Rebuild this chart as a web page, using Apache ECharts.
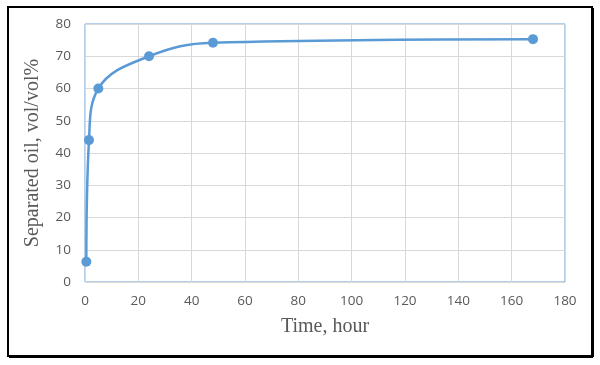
<!DOCTYPE html>
<html><head><meta charset="utf-8">
<script src="https://cdn.jsdelivr.net/npm/echarts@6/dist/echarts.min.js"></script>
<style>html,body{margin:0;padding:0;background:#fff}#c{width:600px;height:365px}</style>
</head><body><div id="c"></div>
<script>
const timeHours = [0.5, 1.5, 5, 24, 48, 168];
const separatedOil = [6.3, 44, 60, 70, 74.2, 75.3];
const xTicks = [0, 20, 40, 60, 80, 100, 120, 140, 160, 180];
const yTicks = [0, 10, 20, 30, 40, 50, 60, 70, 80];

const chart = echarts.init(document.getElementById('c'), null, {renderer: 'canvas'});
const axisLabel = {color: '#595959', fontFamily: 'Open Sans, sans-serif', fontSize: 13.5};
chart.setOption({
  animation: false,
  graphic: [{type: 'rect', shape: {x: 8, y: 7, width: 584, height: 349},
    style: {fill: 'none', stroke: '#000', lineWidth: 2}, z: 100},
    {type: 'line', shape: {x1: 593, y1: 8, x2: 593, y2: 357}, style: {stroke: '#000', lineWidth: 2}},
    {type: 'line', shape: {x1: 9, y1: 357, x2: 593, y2: 357}, style: {stroke: '#000', lineWidth: 2}}],
  grid: {left: 85, right: 35, top: 24, bottom: 83, show: true, borderColor: '#6a9fd4', borderWidth: 1},
  xAxis: {type: 'value', min: xTicks[0], max: xTicks[xTicks.length - 1], interval: 20,
    name: 'Time, hour', nameLocation: 'middle', nameGap: 35,
    nameTextStyle: {fontFamily: 'Liberation Serif', fontSize: 20, color: '#595959'},
    axisLine: {show: false}, axisTick: {show: false},
    axisLabel: Object.assign({margin: 12}, axisLabel),
    splitLine: {lineStyle: {color: '#d9d9d9'}}},
  yAxis: {type: 'value', min: yTicks[0], max: yTicks[yTicks.length - 1], interval: 10,
    name: 'Separated oil, vol/vol%', nameLocation: 'middle', nameGap: 42,
    nameTextStyle: {fontFamily: 'Liberation Serif', fontSize: 20, color: '#595959'},
    axisLine: {show: false}, axisTick: {show: false},
    axisLabel: Object.assign({margin: 14}, axisLabel),
    splitLine: {lineStyle: {color: '#d9d9d9'}}},
  series: [{type: 'line', data: timeHours.map((t, i) => [t, separatedOil[i]]),
    smooth: 0.4, symbol: 'circle', symbolSize: 10,
    lineStyle: {color: '#5b9bd5', width: 2.5}, itemStyle: {color: '#5b9bd5'}}]
});
</script></body></html>
